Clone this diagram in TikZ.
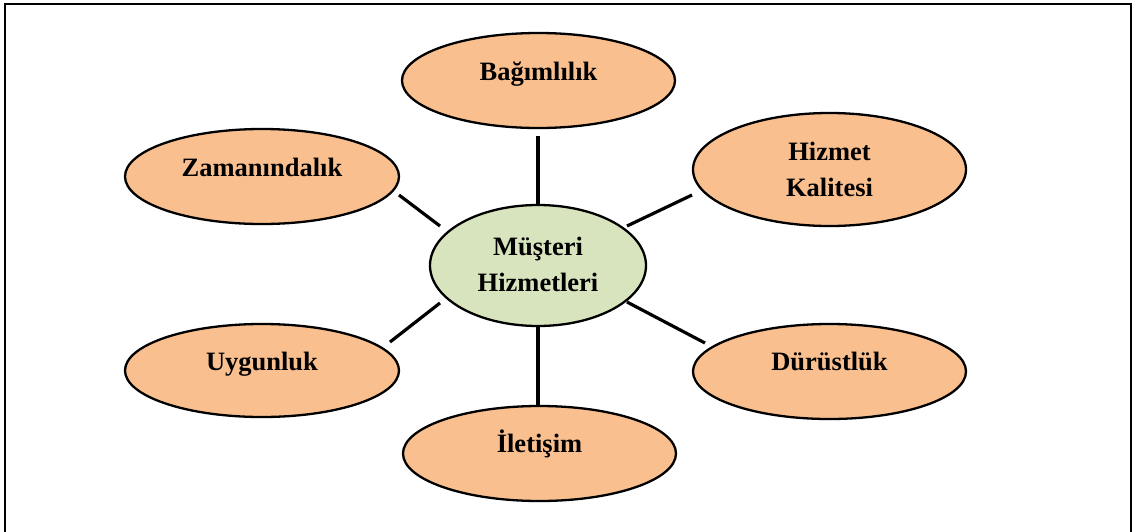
\documentclass[tikz,border=0pt]{standalone}
\usepackage{fontspec}
\setmainfont{Liberation Serif}
\usetikzlibrary{shapes.geometric}
\definecolor{orfill}{HTML}{F9BF8F}
\definecolor{grfill}{HTML}{D7E4BD}
\tikzset{
  oval/.style={ellipse, draw=black, line width=2.3pt, inner sep=0pt},
  outer/.style={oval, fill=orfill, minimum width=273pt, minimum height=95pt},
  hub/.style={oval, fill=grfill, minimum width=216pt, minimum height=121pt},
  lbl/.style={anchor=base, align=center, inner sep=0pt,
    font=\fontsize{26.5}{35.5}\selectfont\bfseries},
  link/.style={line width=3.2pt},
  frame/.style={line width=2pt}
}
\begin{document}
\begin{tikzpicture}[x=1pt,y=-1pt]
\useasboundingbox (0,0) rectangle (1138,531);
\draw[frame] (5,535) -- (5,3.5) -- (1131,3.5) -- (1131,535);
% ellipses
\node[outer] (bag) at (538.5,80.5) {};
\node[outer, minimum width=274pt] (zam) at (262,176.5) {};
\node[outer, minimum width=273pt, minimum height=113pt] (hiz) at (829.5,169.5) {};
\node[hub] (mus) at (538,265.5) {};
\node[outer, minimum width=274pt, minimum height=93pt] (uyg) at (262,370.5) {};
\node[outer, minimum width=273pt] (dur) at (829.5,371.5) {};
\node[outer, minimum width=273pt] (ile) at (539.5,453.5) {};
% labels
\node[lbl] (tbag) at (538.5,80) {Bağımlılık};
\node[lbl] (tzam) at (262,176.7) {Zamanındalık};
\node[lbl] (thiz) at (829.5,196) {Hizmet\\Kalitesi};
\node[lbl] (tmus) at (538,291) {Müşteri\\Hizmetleri};
\node[lbl] (tuyg) at (262,370) {Uygunluk};
\node[lbl] (tdur) at (829.5,370.5) {Dürüstlük};
\node[lbl] (tile) at (539.5,452.7) {İletişim};
% connector ends
\coordinate (a1) at (538,136);  \coordinate (a2) at (538,204);
\coordinate (b1) at (399,195);  \coordinate (b2) at (440,226);
\coordinate (c1) at (692,195);  \coordinate (c2) at (627,226);
\coordinate (d1) at (390,342);  \coordinate (d2) at (440,303);
\coordinate (e1) at (705,343);  \coordinate (e2) at (627,302);
\coordinate (f1) at (538,405);  \coordinate (f2) at (538,327);
\draw[link] (a1) -- (a2);
\draw[link] (b1) -- (b2);
\draw[link] (c1) -- (c2);
\draw[link] (d1) -- (d2);
\draw[link] (e1) -- (e2);
\draw[link] (f1) -- (f2);
\end{tikzpicture}
\end{document}
